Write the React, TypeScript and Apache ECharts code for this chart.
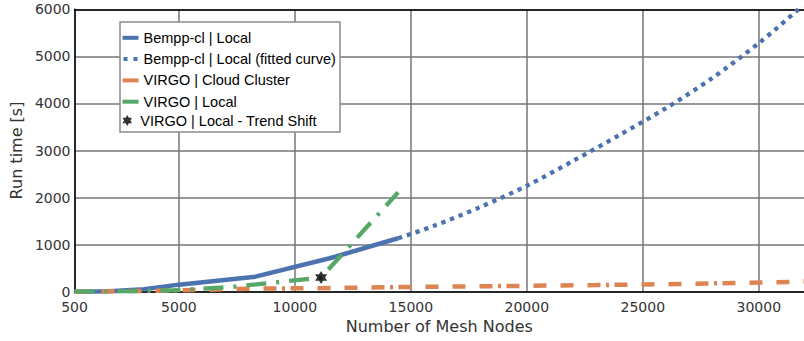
import React, { useEffect, useRef } from "react";
import * as echarts from "echarts";

// ---- data ----
const xTickValues = [500, 5000, 10000, 15000, 20000, 25000, 30000];

const bemppLocalX = [500, 2000, 3500, 5000, 8300, 11500, 14450];
const bemppLocalY = [0, 10, 50, 150, 320, 710, 1135];

const bemppFitX = [14450, 16000, 18000, 20000, 22000, 24000, 26000, 28000, 30000, 31600, 32000];
const bemppFitY = [1135, 1400, 1800, 2250, 2780, 3330, 3900, 4540, 5280, 5950, 6130];

const virgoCloudX = [500, 2000, 4000, 6000, 8000, 11000, 14000, 17000, 20000, 23000, 26000, 29000, 32000];
const virgoCloudY = [0, 8, 20, 40, 65, 75, 95, 110, 125, 140, 160, 185, 215];

const virgoLocalX = [500, 3000, 5000, 7250, 9500, 11130, 14450];
const virgoLocalY = [0, 12, 35, 100, 215, 300, 2110];

const trendShiftX = [11130];
const trendShiftY = [300];

const seriesNames = [
  "Bempp-cl | Local",
  "Bempp-cl | Local (fitted curve)",
  "VIRGO | Cloud Cluster",
  "VIRGO | Local",
  "VIRGO | Local - Trend Shift",
];

const BLUE = "#4C72B0";
const ORANGE = "#DD8452";
const GREEN = "#55A868";

const zip = (xs: number[], ys: number[]) => xs.map((x, i) => [x, ys[i]]);

const STAR =
  "path://M0,-10L2.887,-5L8.66,-5L5.774,0L8.66,5L2.887,5L0,10L-2.887,5L-8.66,5L-5.774,0L-8.66,-5L-2.887,-5Z";

const AXIS_FONT = "DejaVu Sans";
const LEGEND_FONT = "Liberation Sans, Arial, sans-serif";

export default function App() {
  const ref = useRef<HTMLDivElement>(null);

  useEffect(() => {
    const chart = echarts.init(ref.current as HTMLDivElement, null, { renderer: "svg" });
    const X_MIN = 500;
    const X_MAX = 31950;
    chart.setOption({
      animation: false,
      backgroundColor: "#ffffff",
      grid: { left: 70.5, right: -9, top: 9.3, bottom: 49.3, containLabel: false },
      xAxis: [
        {
          type: "value",
          min: X_MIN,
          max: X_MAX,
          name: "Number of Mesh Nodes",
          nameLocation: "middle",
          nameGap: 27,
          nameTextStyle: { fontFamily: AXIS_FONT, fontSize: 16, color: "#333" },
          axisLine: { show: true, onZero: false, lineStyle: { color: "#000", width: 1.5 } },
          axisTick: { show: false, customValues: xTickValues },
          axisLabel: {
            customValues: xTickValues,
            formatter: (v: number) => String(v),
            fontFamily: AXIS_FONT,
            fontSize: 14,
            lineHeight: 13,
            color: "#333",
            margin: 8.5,
          },
          splitLine: { show: true, lineStyle: { color: "#767676", width: 1.5 } },
        },
        {
          type: "value",
          position: "top",
          min: X_MIN,
          max: X_MAX,
          axisLine: { show: true, onZero: false, lineStyle: { color: "#000", width: 1.5 } },
          axisTick: { show: false },
          axisLabel: { show: false },
          splitLine: { show: false },
        },
      ],
      yAxis: {
        type: "value",
        min: 0,
        max: 6000,
        interval: 1000,
        name: "Run time [s]",
        nameLocation: "middle",
        nameRotate: 90,
        nameGap: 41,
        nameTextStyle: { fontFamily: AXIS_FONT, fontSize: 16, color: "#333" },
        axisLine: { show: true, onZero: false, lineStyle: { color: "#000", width: 1.5 } },
        axisTick: { show: false },
        axisLabel: {
          formatter: (v: number) => String(v),
          fontFamily: AXIS_FONT,
          fontSize: 14,
          lineHeight: 10,
          color: "#333",
          margin: 4,
        },
        splitLine: { show: true, lineStyle: { color: "#767676", width: 1.5 } },
      },
      legend: [
        {
          left: 122.5,
          top: 30.3,
          orient: "vertical",
          padding: 0,
          itemGap: 6.3,
          itemWidth: 16,
          itemHeight: 4,
          selectedMode: false,
          itemStyle: { borderWidth: 0 },
          textStyle: { fontFamily: LEGEND_FONT, fontSize: 14.5, color: "#000" },
          data: [
            { name: seriesNames[0], icon: "rect", itemStyle: { color: BLUE, borderWidth: 0 } },
            {
              name: seriesNames[1],
              icon: "path://M0,0H4V4H0Z M10,0H14V4H10Z",
              itemStyle: { color: BLUE, borderWidth: 0 },
            },
            { name: seriesNames[2], icon: "rect", itemStyle: { color: ORANGE, borderWidth: 0 } },
            { name: seriesNames[3], icon: "rect", itemStyle: { color: GREEN, borderWidth: 0 } },
          ],
        },
        {
          left: 122.5,
          top: 113,
          orient: "vertical",
          padding: 0,
          itemWidth: 16,
          itemHeight: 11,
          selectedMode: false,
          itemStyle: { borderWidth: 0 },
          textStyle: { fontFamily: LEGEND_FONT, fontSize: 14.5, color: "#000" },
          data: [{ name: seriesNames[4], icon: STAR, itemStyle: { color: "#000", borderWidth: 0 } }],
        },
      ],
      graphic: [
        {
          type: "rect",
          z: 3,
          shape: { x: 120, y: 22, width: 220, height: 110 },
          style: { fill: "#fff", stroke: "#8c8c8c", lineWidth: 1.5 },
        },
      ],
      series: [
        {
          name: seriesNames[0],
          type: "line",
          data: zip(bemppLocalX, bemppLocalY),
          showSymbol: false,
          symbol: "none",
          lineStyle: { color: BLUE, width: 4.5, cap: "butt" },
          itemStyle: { color: BLUE },
        },
        {
          name: seriesNames[1],
          type: "line",
          data: zip(bemppFitX, bemppFitY),
          showSymbol: false,
          symbol: "none",
          smooth: 0.3,
          lineStyle: { color: BLUE, width: 4.3, type: [4.3, 4.9], cap: "butt" },
          itemStyle: { color: BLUE },
        },
        {
          name: seriesNames[2],
          type: "line",
          data: zip(virgoCloudX, virgoCloudY),
          showSymbol: false,
          symbol: "none",
          lineStyle: {
            color: ORANGE,
            width: 4.5,
            type: [13, 14, 13, 14, 13, 14, 13, 5.5, 3, 5.5],
            cap: "butt",
          },
          itemStyle: { color: ORANGE },
        },
        {
          name: seriesNames[3],
          type: "line",
          data: zip(virgoLocalX, virgoLocalY),
          showSymbol: false,
          symbol: "none",
          lineStyle: { color: GREEN, width: 4.3, type: [20, 10, 3, 10], cap: "butt" },
          itemStyle: { color: GREEN },
        },
        {
          name: seriesNames[4],
          type: "scatter",
          data: zip(trendShiftX, trendShiftY),
          symbol: STAR,
          symbolSize: [12, 13],
          itemStyle: { color: "#000" },
          z: 4,
        },
      ],
    });
    return () => chart.dispose();
  }, []);

  return (
    <div
      ref={ref}
      style={{ position: "fixed", left: 0, top: 0, width: 804, height: 341, background: "#fff" }}
    />
  );
}
